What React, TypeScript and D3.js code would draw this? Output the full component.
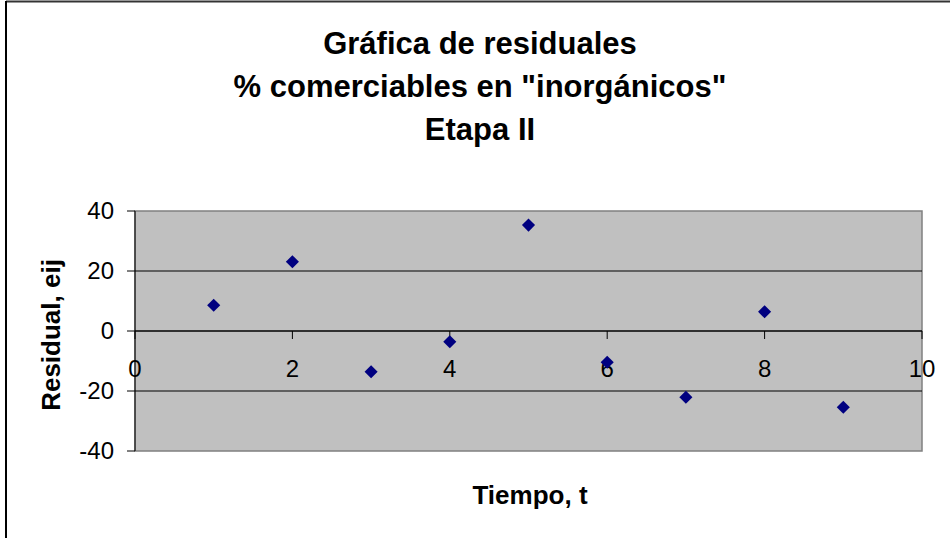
import React from "react";
import * as d3 from "d3";

const tValues = [1, 2, 3, 4, 5, 6, 7, 8, 9];
const residuals = [8.6, 23.1, -13.6, -3.6, 35.3, -10.4, -22.1, 6.4, -25.4];
const xTicks = [0, 2, 4, 6, 8, 10];
const yTicks = [-40, -20, 0, 20, 40];
const titleLines = ["Gráfica de residuales", "% comerciables en \"inorgánicos\"", "Etapa II"];
const xTitle = "Tiempo, t";
const yTitle = "Residual, eij";

const W = 950;
const H = 538;
const plot = { left: 135, right: 922, top: 211, bottom: 451 };
const font = "'Liberation Sans', Arial, sans-serif";

export default function App() {
  const x = d3.scaleLinear().domain([0, 10]).range([plot.left, plot.right]);
  const y = d3.scaleLinear().domain([-40, 40]).range([plot.bottom, plot.top]);
  const diamond = d3.symbol().type(d3.symbolSquare).size(86)();
  const y0 = y(0);

  return (
    <svg width={W} height={H} style={{ position: "absolute", left: 0, top: 0, background: "#fff" }}>
      <rect x={0} y={0} width={W} height={H} fill="#fff" />
      {/* outer frame */}
      <line x1={6} x2={W} y1={1.5} y2={1.5} stroke="#333" strokeWidth={2} />
      <line x1={6} x2={6} y1={1} y2={H} stroke="#000" strokeWidth={2} />

      {/* title */}
      {titleLines.map((t, i) => (
        <text key={i} x={480} y={54 + i * 43} textAnchor="middle" fontFamily={font} fontWeight="bold" fontSize={31} fill="#000">
          {t}
        </text>
      ))}

      {/* plot area */}
      <rect x={plot.left} y={plot.top} width={plot.right - plot.left} height={plot.bottom - plot.top} fill="#c0c0c0" stroke="#808080" strokeWidth={1.5} />
      {yTicks.filter((v) => v !== 40 && v !== -40).map((v) => (
        <line key={v} x1={plot.left} x2={plot.right} y1={y(v)} y2={y(v)} stroke="#000" strokeWidth={1} />
      ))}
      {/* y axis */}
      <line x1={plot.left} x2={plot.left} y1={plot.top} y2={plot.bottom} stroke="#000" strokeWidth={1} />
      {yTicks.map((v) => (
        <g key={v}>
          <line x1={plot.left - 8} x2={plot.left} y1={y(v)} y2={y(v)} stroke="#000" />
          <text x={plot.left - 21} y={y(v) + 8} textAnchor="end" fontFamily={font} fontSize={24} fill="#000">
            {v}
          </text>
        </g>
      ))}
      {/* x axis at 0 */}
      <line x1={plot.left} x2={plot.right} y1={y0} y2={y0} stroke="#000" strokeWidth={1} />
      {xTicks.map((v) => (
        <g key={v}>
          <line x1={x(v)} x2={x(v)} y1={y0} y2={y0 + 8} stroke="#000" />
          <text x={x(v)} y={y0 + 46} textAnchor="middle" fontFamily={font} fontSize={24} fill="#000">
            {v}
          </text>
        </g>
      ))}

      {/* points */}
      {tValues.map((t, i) => (
        <path key={i} d={diamond ?? ""} transform={`translate(${x(t)},${y(residuals[i])}) rotate(45)`} fill="#000080" />
      ))}

      {/* axis titles */}
      <text x={530} y={504} textAnchor="middle" fontFamily={font} fontWeight="bold" fontSize={26} fill="#000">
        {xTitle}
      </text>
      <text transform={`translate(60,${(plot.top + plot.bottom) / 2 + 4}) rotate(-90)`} textAnchor="middle" fontFamily={font} fontWeight="bold" fontSize={26} fill="#000">
        {yTitle}
      </text>
    </svg>
  );
}
